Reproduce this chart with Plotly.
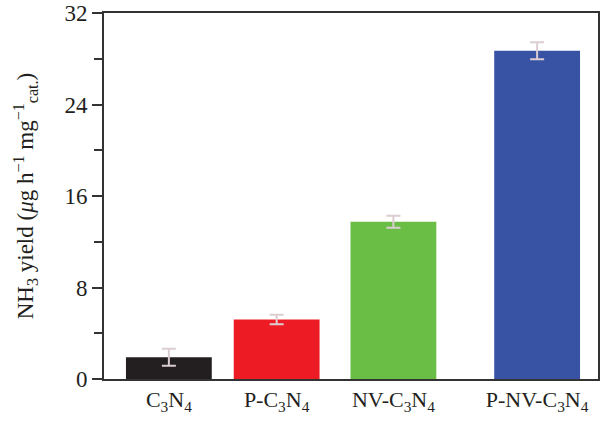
import plotly.graph_objects as go

categories = ["C<sub>3</sub>N<sub>4</sub>", "P-C<sub>3</sub>N<sub>4</sub>",
              "NV-C<sub>3</sub>N<sub>4</sub>", "P-NV-C<sub>3</sub>N<sub>4</sub>"]
values = [1.9, 5.2, 13.75, 28.7]
errors = [0.75, 0.42, 0.52, 0.75]
colors = ["#231f20", "#ed1c24", "#6abd45", "#3953a4"]
x_pos = [0.65, 1.73, 2.90, 4.34]
y_ticks = [0, 8, 16, 24, 32]

fig = go.Figure()
fig.add_trace(go.Bar(
    x=x_pos, y=values, width=0.86,
    marker=dict(color=colors, line=dict(width=0)),
    error_y=dict(type="data", array=errors, visible=True,
                 color="#dccdd2", thickness=2, width=7),
))

font_family = "Liberation Serif"
fig.update_layout(
    width=600, height=422,
    margin=dict(l=104, r=2, t=13, b=43),
    paper_bgcolor="white", plot_bgcolor="white",
    showlegend=False,
    font=dict(family=font_family, size=22, color="#231f20"),
    xaxis=dict(range=[0, 4.95], tickmode="array", tickvals=x_pos,
               ticktext=categories, ticks="", showgrid=False, zeroline=False,
               showline=True, linecolor="#333333", linewidth=2, mirror=True,
               tickfont=dict(size=22), automargin=False,
               ticklabeloverflow="allow"),
    yaxis=dict(range=[0, 32], tickmode="array", tickvals=y_ticks,
               ticks="outside", ticklen=10, tickwidth=1.5, tickcolor="#333333",
               minor=dict(tickvals=[4, 12, 20, 28], ticks="outside", ticklen=8,
                          tickwidth=1.5, tickcolor="#333333"),
               showgrid=False, zeroline=False,
               showline=True, linecolor="#333333", linewidth=2, mirror=True,
               tickfont=dict(size=23), automargin=False,
               ticklabeloverflow="allow",
               title=dict(text="NH<sub>3</sub> yield (<i>μ</i>g h<sup>−1</sup> mg<sup>−1</sup><sub>cat.</sub>)",
                          font=dict(size=23), standoff=24)),
)

fig.write_html("out.html", config={"displayModeBar": False},
               post_script="document.body.style.margin='0';document.body.style.overflow='hidden';")
